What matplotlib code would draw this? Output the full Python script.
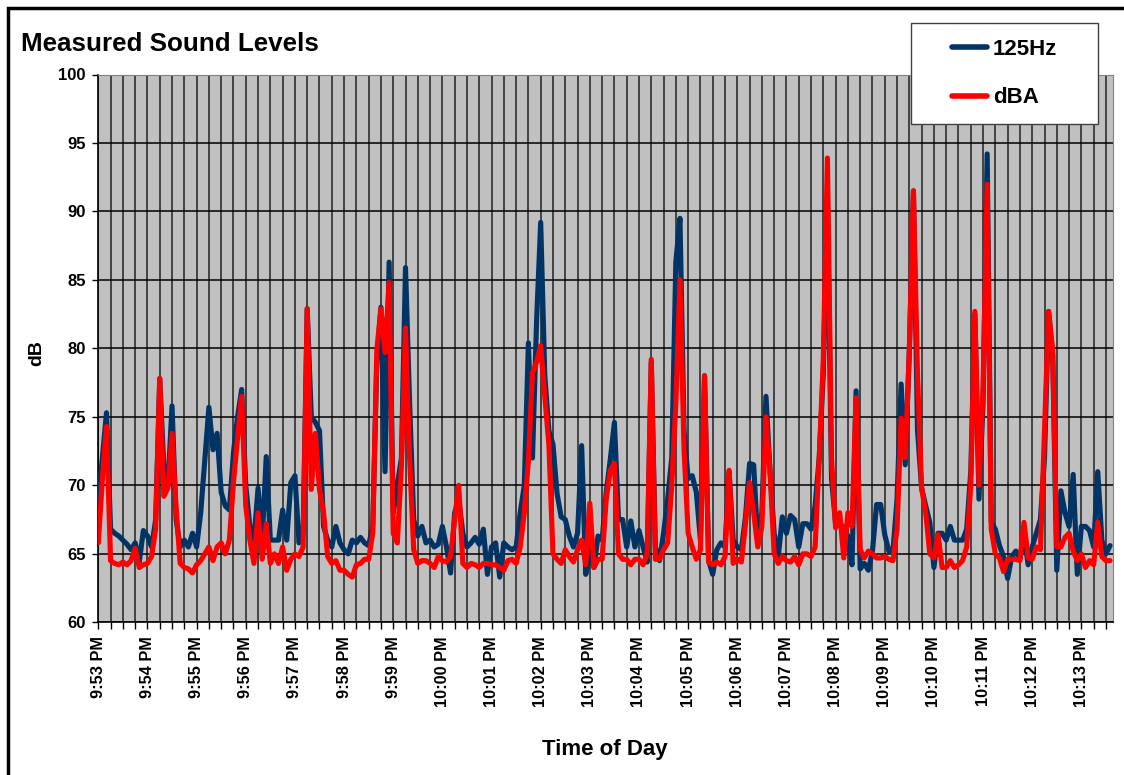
import numpy as np
import matplotlib
matplotlib.use("Agg")
import matplotlib.pyplot as plt
import matplotlib.dates as mdates
from matplotlib.patches import Rectangle
from matplotlib.ticker import FuncFormatter

plt.rcParams["font.family"] = ["Liberation Sans", "DejaVu Sans"]
plt.rcParams["font.weight"] = "bold"

# readings every 5 seconds starting at 9:53:00 PM
start = np.datetime64("2000-01-01T21:53:00")
step_s = 5
end_s = 1238

blue_125hz = [
    # 9:53:00 - 9:56:00
    69.0, 72.0, 75.3, 66.8, 66.5, 66.3, 66.0, 65.7, 65.3, 65.8, 64.4, 66.7,
    66.3, 65.5, 67.5, 77.8, 71.4, 70.0, 75.8, 67.5, 65.5, 66.0, 65.5, 66.5,
    65.5, 68.0, 71.9, 75.7, 72.6, 73.8, 69.5, 68.5, 68.2, 72.4, 75.0, 77.0,
    70.0,
    # 9:56:05 - 9:58:55
    67.0, 66.0, 69.8, 66.0, 72.1, 66.0, 66.0, 66.0, 68.2, 66.0, 70.2, 70.7,
    65.8, 66.5, 82.9, 75.0, 74.6, 74.0, 67.0, 66.0, 65.5, 67.0, 65.8, 65.3,
    65.0, 66.0, 65.8, 66.2, 65.8, 65.6, 67.0, 79.0, 83.0, 71.0, 86.3,
    # 9:59:00 - 10:01:55
    68.0, 70.0, 72.0, 85.9, 76.0, 67.5, 66.3, 67.0, 65.8, 66.0, 65.5, 65.7,
    67.0, 65.5, 63.6, 68.0, 69.0, 66.5, 65.5, 65.8, 66.2, 65.7, 66.8, 63.5,
    65.5, 65.8, 63.3, 65.8, 65.5, 65.3, 65.5, 68.0, 70.0, 80.4, 72.0, 82.0,
    # 10:02:00 - 10:04:55
    89.2, 78.0, 74.0, 73.0, 69.4, 67.7, 67.5, 66.3, 65.5, 66.5, 72.9, 63.5,
    65.2, 64.0, 66.3, 66.0, 69.5, 71.9, 74.6, 67.5, 67.5, 65.5, 67.4, 65.5,
    66.7, 65.5, 64.4, 79.0, 65.5, 64.5, 66.5, 69.0, 72.0, 86.3, 89.5, 74.0,
    # 10:05:00 - 10:07:45
    70.5, 70.7, 69.5, 66.0, 78.0, 64.5, 63.5, 65.3, 65.8, 65.5, 71.0, 66.0,
    65.5, 65.3, 67.7, 71.6, 71.5, 65.8, 68.0, 76.5, 71.0, 66.5, 64.8, 67.7,
    66.5, 67.8, 67.5, 65.5, 67.2, 67.2, 66.8, 68.5, 72.0, 78.2,
    # 10:07:50 - 10:10:50
    91.0, 70.5, 67.2, 67.3, 66.8, 66.3, 64.2, 76.9, 63.9, 64.3, 63.8, 65.2,
    68.6, 68.6, 66.4, 65.2, 65.2, 69.0, 77.4, 71.5, 79.8, 91.5, 74.0, 69.8,
    68.5, 67.3, 64.0, 66.5, 66.5, 66.0, 67.0, 66.0, 66.0, 66.0, 66.8, 71.0,
    82.5,
    # 10:10:55 - 10:13:35
    69.0, 76.0, 94.2, 67.3, 66.8, 65.6, 64.8, 63.2, 64.8, 65.2, 64.6, 66.4,
    64.2, 65.5, 66.5, 67.5, 72.0, 82.7, 79.5, 63.8, 69.6, 68.0, 67.0, 70.8,
    63.5, 67.0, 67.0, 66.7, 65.5, 71.0, 66.0, 65.0, 65.6,
]

red_dba = [
    # 9:53:00 - 9:56:00
    65.8, 70.5, 74.3, 64.5, 64.3, 64.2, 64.4, 64.2, 64.5, 65.4, 64.0, 64.2,
    64.3, 64.8, 66.8, 77.8, 69.2, 69.8, 73.8, 68.3, 64.3, 64.0, 63.9, 63.6,
    64.2, 64.5, 65.0, 65.5, 64.5, 65.5, 65.8, 65.0, 66.0, 70.2, 73.5, 76.5,
    68.5,
    # 9:56:05 - 9:58:55
    66.0, 64.3, 68.0, 64.6, 67.2, 64.3, 65.0, 64.3, 65.5, 63.8, 64.6, 65.0,
    64.8, 65.5, 82.9, 69.7, 73.8, 69.7, 68.0, 64.8, 64.3, 64.5, 63.8, 63.8,
    63.5, 63.3, 64.2, 64.3, 64.6, 64.6, 66.5, 79.9, 82.9, 79.7, 84.8,
    # 9:59:00 - 10:01:55
    66.5, 65.8, 71.4, 81.5, 72.0, 65.3, 64.3, 64.5, 64.5, 64.3, 64.0, 64.8,
    64.5, 64.4, 64.8, 67.5, 70.0, 64.3, 64.0, 64.3, 64.2, 64.0, 64.3, 64.3,
    64.2, 64.2, 64.0, 63.8, 64.5, 64.6, 64.3, 65.5, 68.0, 71.8, 78.2, 79.0,
    # 10:02:00 - 10:04:55
    80.2, 76.5, 73.0, 65.0, 64.6, 64.3, 65.3, 64.8, 64.4, 65.3, 66.0, 64.2,
    68.7, 64.0, 64.6, 64.6, 69.0, 71.1, 71.6, 65.0, 64.6, 64.6, 64.2, 64.6,
    64.6, 64.2, 65.0, 79.2, 64.6, 64.6, 65.3, 65.8, 70.0, 76.0, 85.0, 72.6,
    # 10:05:00 - 10:07:45
    66.5, 65.5, 64.6, 65.3, 78.0, 64.4, 64.2, 64.4, 64.2, 64.8, 71.1, 64.3,
    64.6, 64.4, 67.2, 70.2, 68.0, 65.5, 67.0, 75.0, 71.0, 65.0, 64.3, 64.8,
    64.5, 64.4, 64.8, 64.2, 65.0, 65.0, 64.8, 65.5, 72.0, 79.2,
    # 10:07:50 - 10:10:50
    93.9, 72.0, 66.9, 68.0, 64.7, 68.0, 67.0, 76.4, 65.3, 64.7, 65.2, 65.0,
    64.7, 64.7, 64.8, 64.6, 64.5, 66.8, 74.9, 72.0, 79.8, 91.5, 78.0, 69.8,
    68.0, 65.0, 64.7, 66.4, 64.0, 64.0, 64.5, 64.0, 64.2, 64.5, 65.5, 70.0,
    82.7,
    # 10:10:55 - 10:13:35
    70.0, 77.0, 92.0, 66.8, 65.0, 64.7, 63.7, 64.6, 64.6, 64.6, 64.5, 67.3,
    64.7, 64.6, 65.5, 65.3, 74.0, 82.7, 79.8, 65.5, 65.5, 66.2, 66.5, 65.2,
    64.5, 65.0, 64.0, 64.5, 64.2, 67.3, 64.8, 64.5, 64.5,
]

times = start + np.arange(len(blue_125hz)) * np.timedelta64(step_s, "s")

W, H = 1124, 775
fig = plt.figure(figsize=(W / 100, H / 100), dpi=100)
ax = fig.add_axes([98.3 / W, 1 - 622.3 / H, (1112.5 - 98.3) / W, (622.3 - 74.5) / H])
ax.set_facecolor("#c0c0c0")

ax.plot(times, blue_125hz, color="#003366", lw=3.7, solid_joinstyle="round",
        solid_capstyle="round", label="125Hz", zorder=3)
ax.plot(times, red_dba, color="#ff0000", lw=3.7, solid_joinstyle="round",
        solid_capstyle="round", label="dBA", zorder=4)

ax.set_ylim(60, 100)
ax.set_yticks(range(60, 101, 5))
ax.set_xlim(start, start + np.timedelta64(end_s, "s"))

ax.xaxis.set_major_locator(mdates.MinuteLocator())
ax.xaxis.set_minor_locator(mdates.SecondLocator(bysecond=[15, 30, 45]))
ax.xaxis.set_major_formatter(FuncFormatter(
    lambda x, pos: mdates.num2date(x).strftime("%I:%M %p").lstrip("0")))

ax.tick_params(axis="x", which="both", direction="out", length=5, width=1,
               color="black", pad=5, labelsize=11.8, labelrotation=90)
ax.tick_params(axis="y", direction="out", length=4, width=1, pad=5, labelsize=12)

ax.grid(axis="x", which="both", color="#222222", lw=1.1)
ax.grid(axis="y", which="major", color="black", lw=1.1)
ax.set_axisbelow(True)

for side in ["top", "right"]:
    ax.spines[side].set_color("#808080")
for side in ["left", "bottom"]:
    ax.spines[side].set_color("black")
    ax.spines[side].set_linewidth(1.2)

fig.text(21 / W, 1 - 51 / H, "Measured Sound Levels", fontsize=18.7,
         fontweight="bold", va="baseline", ha="left")
fig.text(37 / W, 1 - 353 / H, "dB", fontsize=14, fontweight="bold",
         rotation=90, va="center", ha="center")
fig.text(605 / W, 1 - 750 / H, "Time of Day", fontsize=16, fontweight="bold",
         va="center", ha="center")

# legend box
fig.add_artist(Rectangle((910.7 / W, 1 - 124 / H), (1098 - 910.7) / W, (124 - 22.7) / H,
                         transform=fig.transFigure, facecolor="white",
                         edgecolor="#404040", lw=1, zorder=5))
handles, labels = ax.get_legend_handles_labels()
leg = fig.legend(handles, labels, loc="center",
                 bbox_to_anchor=(1004.4 / W, 1 - 73.4 / H), frameon=False,
                 fontsize=16, handlelength=1.6, labelspacing=1.25,
                 handletextpad=0.25)
leg.set_zorder(6)
for line in leg.get_lines():
    line.set_linewidth(4)

# chart border
fig.add_artist(Rectangle((8 / W, -0.1), 1.5, 1.1 - 8 / H, transform=fig.transFigure,
                         fill=False, edgecolor="black", lw=2.5))

fig.savefig("out.png", dpi=100)
